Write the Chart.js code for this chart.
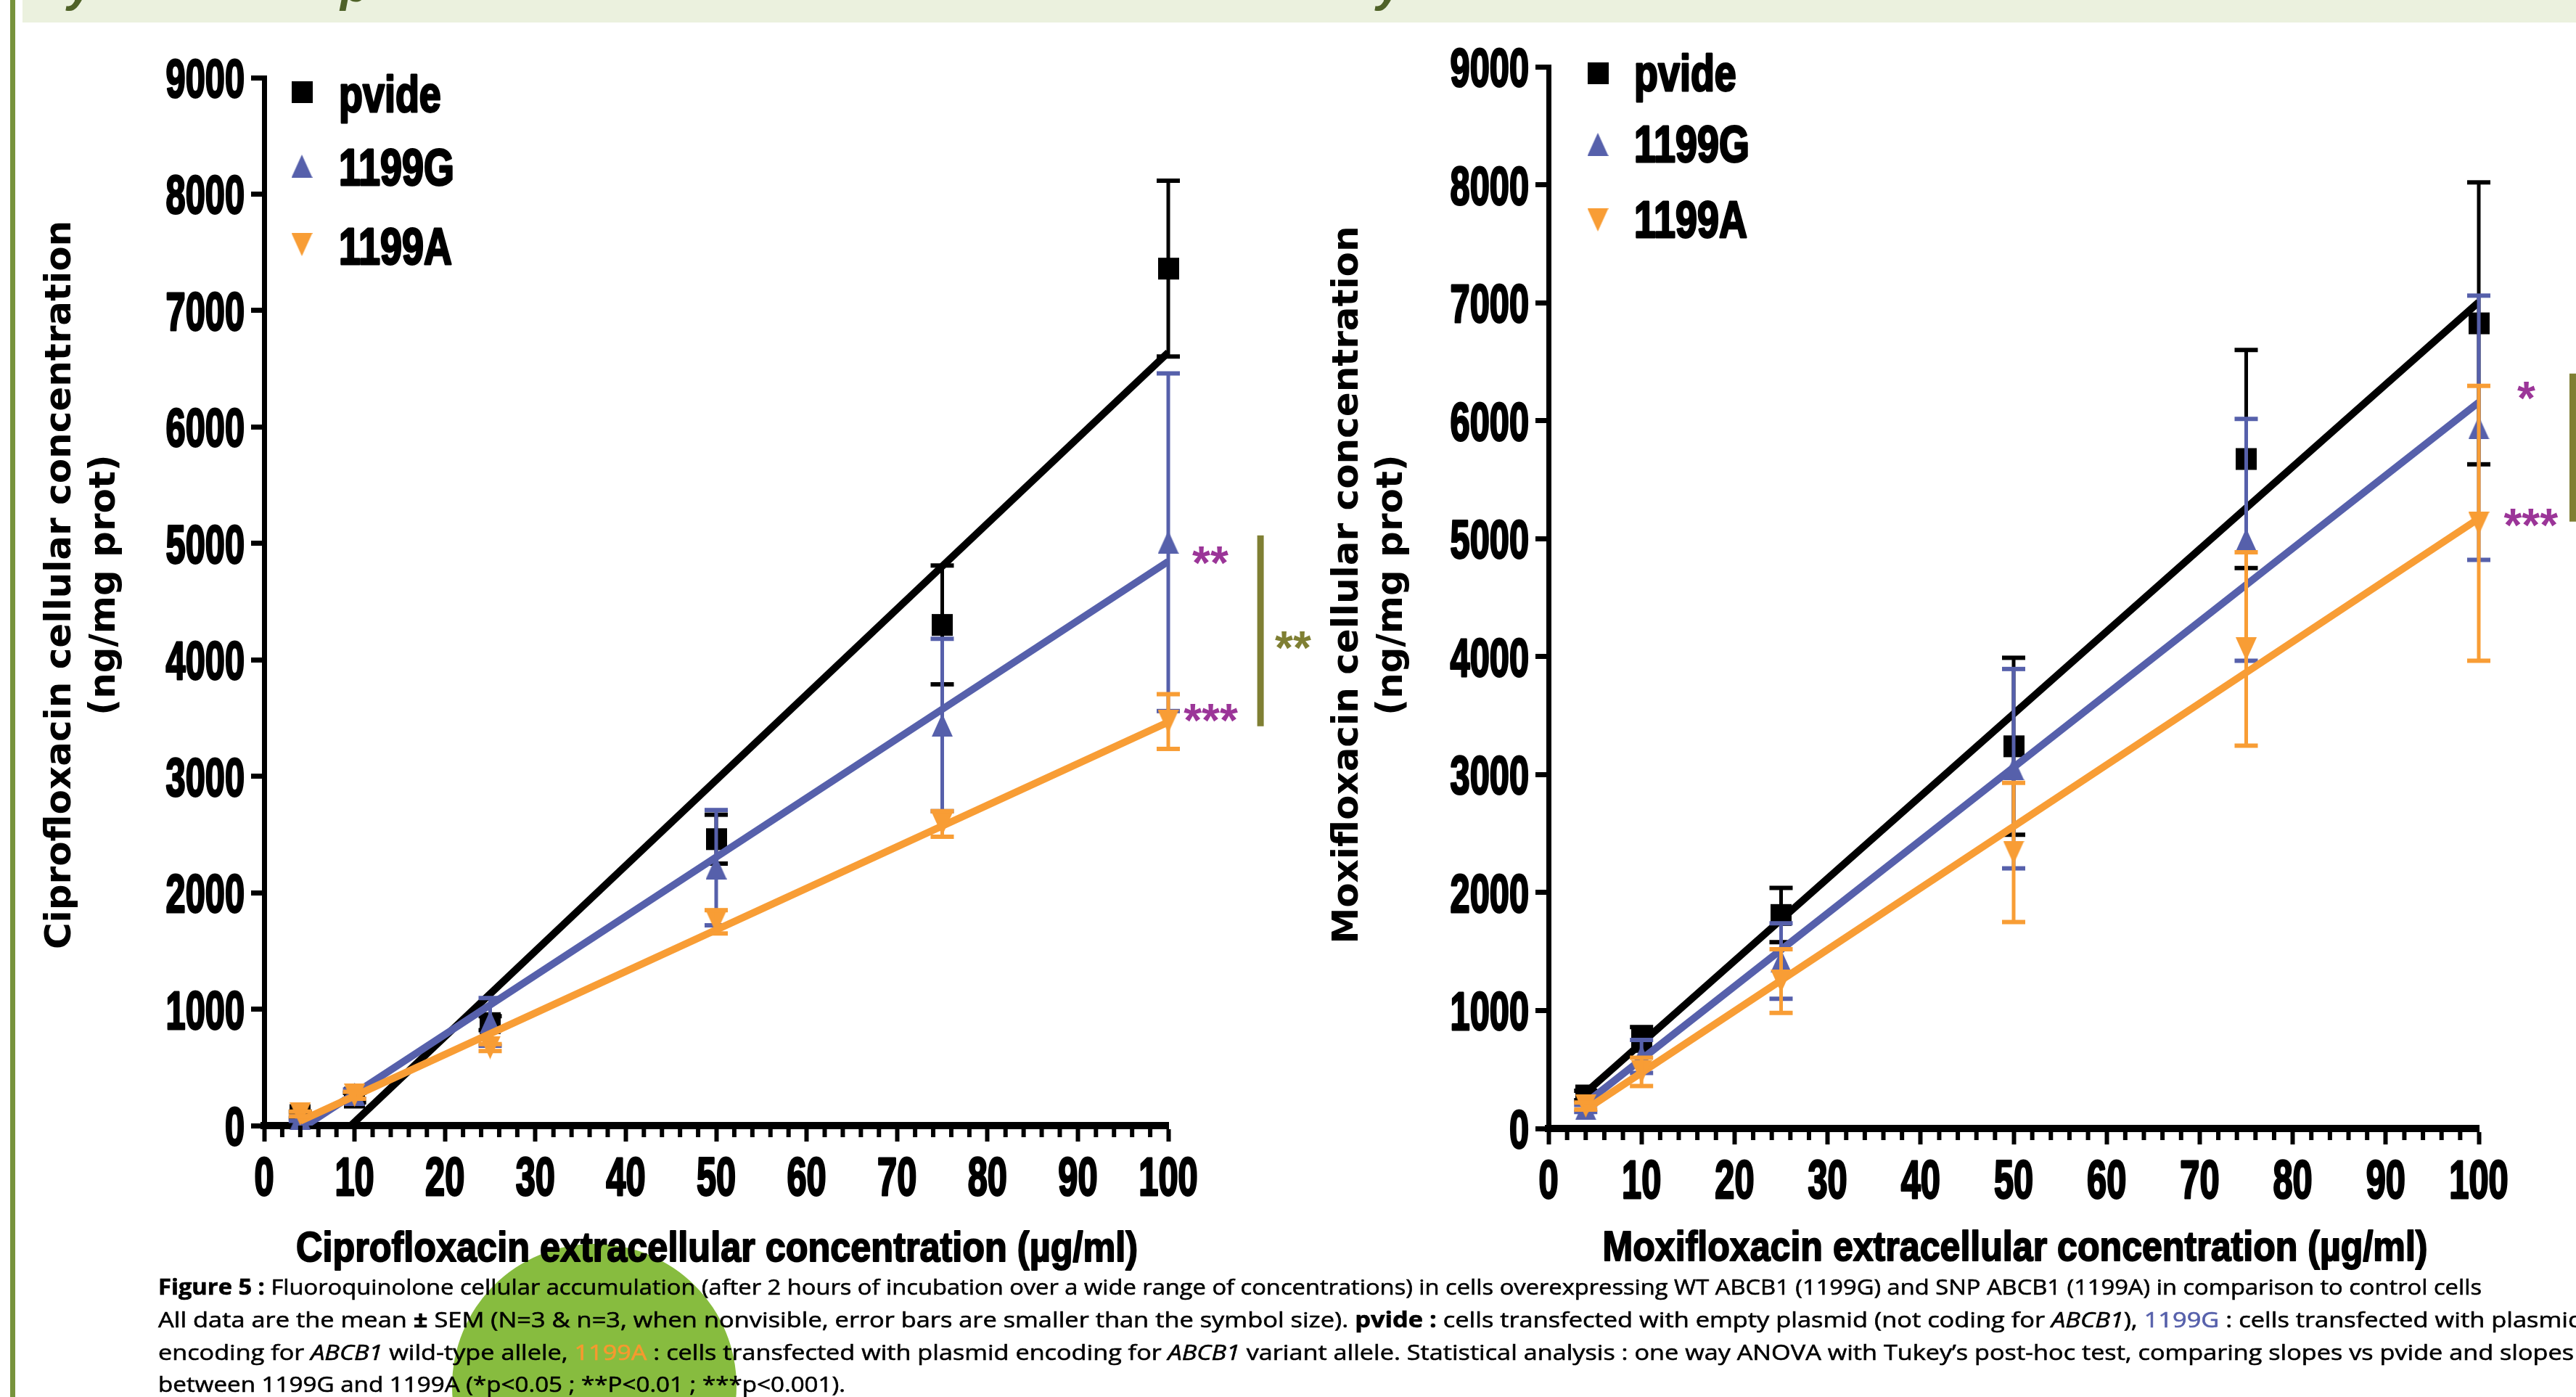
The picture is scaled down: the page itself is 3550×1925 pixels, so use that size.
<!DOCTYPE html>
<html>
<head>
<meta charset="utf-8">
<script src="https://cdn.jsdelivr.net/npm/chart.js@4.4.1/dist/chart.umd.min.js"></script>
<style>
  html, body { margin: 0; padding: 0; width: 3550px; height: 1925px; overflow: hidden; background: #fff; }
  #banner { position: absolute; left: 31px; top: 0; width: 3519px; height: 31px; background: #ebf1de; overflow: hidden; }
  #banner span { position: absolute; top: -57px; line-height: 64px; font: italic bold 64px 'Liberation Sans', sans-serif; color: #4f6228; }
  #edge { position: absolute; left: 14px; top: 0; width: 7px; height: 1925px; background: #77933c; }
  #dot { position: absolute; left: 623px; top: 1714px; width: 392px; height: 392px; border-radius: 50%; background: #87bc3f; }
  canvas { position: absolute; top: 0; }
  #caption { position: absolute; left: 218px; top: 0; font-family: 'Open Sans', sans-serif; font-size: 30px; line-height: 30px; color: #000; -webkit-text-stroke: 0.6px currentColor; }
  #caption div { position: absolute; left: 0; white-space: nowrap; transform-origin: 0 0; }
  #caption .g { color: #5660ab; }
  #caption .a { color: #f7992f; }
</style>
</head>
<body>
<div id="banner"><span style="left:62px">y</span><span style="left:438px">p</span><span style="left:1866px">y</span></div>
<div id="edge"></div>
<div id="dot"></div>
<canvas id="cipro" width="1840" height="1925" style="left:0"></canvas>
<canvas id="moxi" width="1760" height="1925" style="left:1790px"></canvas>
<div id="caption"></div>
<script>
// ---- data ----
const concentrations = [4, 10, 25, 50, 75, 100];
const seriesNames = ['pvide', '1199G', '1199A'];
const seriesColors = ['#000000', '#5660ab', '#f89d35'];
const xTicks = [0, 10, 20, 30, 40, 50, 60, 70, 80, 90, 100];
const yTicks = [0, 1000, 2000, 3000, 4000, 5000, 6000, 7000, 8000, 9000];

// Ciprofloxacin: mean and SEM
const cipPvide = [90, 240, 880, 2460, 4300, 7360];
const cipPvideSem = [30, 40, 60, 210, 510, 755];
const cipG = [60, 270, 890, 2215, 3440, 5010];
const cipGSem = [20, 40, 205, 495, 740, 1450];
const cipA = [100, 260, 670, 1750, 2590, 3470];
const cipASem = [20, 30, 30, 100, 110, 235];
// Ciprofloxacin regression lines (visible ends)
const cipPvideFitX = [9.6, 100], cipPvideFitY = [0, 6640];
const cipGFitX = [4.6, 100], cipGFitY = [0, 4845];
const cipAFitX = [4, 100], cipAFitY = [40, 3465];

// Moxifloxacin: mean and SEM
const moxPvide = [280, 760, 1810, 3240, 5675, 6825];
const moxPvideSem = [40, 100, 230, 750, 925, 1195];
const moxG = [170, 610, 1420, 3050, 4990, 5940];
const moxGSem = [30, 140, 320, 845, 1025, 1120];
const moxA = [190, 480, 1250, 2340, 4065, 5130];
const moxASem = [30, 120, 270, 590, 820, 1165];
// Moxifloxacin regression lines
const moxPvideFitX = [4, 100], moxPvideFitY = [305, 7005];
const moxGFitX = [4, 100], moxGFitY = [215, 6155];
const moxAFitX = [4, 100], moxAFitY = [160, 5170];

const PURPLE = '#9b3598';
const OLIVE = '#7f7f33';
const LABEL_FONT = "'Liberation Sans', Arial, sans-serif";

// GraphPad-like marker shapes
function markerCanvas(shape, color) {
    const c = document.createElement('canvas');
    c.width = 29; c.height = 32;
    const g = c.getContext('2d');
    g.fillStyle = color;
    g.beginPath();
    if (shape === 'square') {
        g.rect(0, 1, 29, 30);
    } else if (shape === 'up') {
        g.moveTo(14.5, 0); g.lineTo(29, 32); g.lineTo(0, 32);
    } else {
        g.moveTo(0, 0); g.lineTo(29, 0); g.lineTo(14.5, 32);
    }
    g.fill();
    return c;
}
const markers = [
    markerCanvas('square', seriesColors[0]),
    markerCanvas('up', seriesColors[1]),
    markerCanvas('down', seriesColors[2]),
];

// condensed heavy text: fill plus a thin stroke to thicken the squeezed glyphs
function squeezeText(ctx, text, x, y, sx, align, heavy) {
    ctx.save();
    ctx.translate(x, y);
    ctx.scale(sx, 1);
    ctx.textAlign = align;
    ctx.fillText(text, 0, 0);
    if (heavy) {
        ctx.lineWidth = heavy;
        ctx.lineJoin = 'round';
        ctx.strokeStyle = ctx.fillStyle;
        ctx.strokeText(text, 0, 0);
    }
    ctx.restore();
}

function line(ctx, x1, y1, x2, y2) {
    ctx.beginPath();
    ctx.moveTo(x1, y1);
    ctx.lineTo(x2, y2);
    ctx.stroke();
}

const posterStyle = {
    id: 'posterStyle',
    afterDatasetDraw(chart, args) {
        const ds = chart.data.datasets[args.index];
        if (!ds.sem) return;
        const ctx = chart.ctx, xs = chart.scales.x, ys = chart.scales.y;
        ctx.save();
        ctx.strokeStyle = ds.barColor;
        ds.data.forEach((p, i) => {
            const x = xs.getPixelForValue(p.x);
            const top = ys.getPixelForValue(p.y + ds.sem[i]);
            const bot = ys.getPixelForValue(p.y - ds.sem[i]);
            ctx.lineWidth = 5;
            line(ctx, x, top, x, bot);
            ctx.lineWidth = 6;
            line(ctx, x - 16, top, x + 16, top);
            line(ctx, x - 16, bot, x + 16, bot);
        });
        ctx.restore();
    },
    afterDraw(chart, args, o) {
        const ctx = chart.ctx, xs = chart.scales.x, ys = chart.scales.y;
        const area = chart.chartArea;
        ctx.save();
        ctx.fillStyle = '#000';
        ctx.strokeStyle = '#000';

        // minor ticks every 2 units
        ctx.lineWidth = 6;
        for (let v = 2; v < 100; v += 2) {
            if (v % 10 === 0) continue;
            const x = xs.getPixelForValue(v);
            line(ctx, x, area.bottom, x, area.bottom + 16);
        }

        // tick labels, condensed bold
        ctx.font = 'bold 75px ' + LABEL_FONT;
        ctx.textBaseline = 'alphabetic';
        ys.ticks.forEach(t => {
            squeezeText(ctx, String(t.value), area.left - 27, ys.getPixelForValue(t.value) + 27, 0.65, 'right', 3);
        });
        xs.ticks.forEach(t => {
            squeezeText(ctx, String(t.value), xs.getPixelForValue(t.value), area.bottom + 96, 0.65, 'center', 3);
        });

        // legend
        ctx.font = 'bold 70px ' + LABEL_FONT;
        seriesNames.forEach((name, i) => {
            const m = markers[i];
            ctx.drawImage(m, o.legend.symX - m.width / 2, o.legend.rows[i] - m.height / 2);
            squeezeText(ctx, name, o.legend.textX, o.legend.baselines[i], 0.77, 'left', 3);
        });

        // x title, fitted to its width
        ctx.font = 'bold 57px ' + LABEL_FONT;
        const xw = ctx.measureText(o.xTitle.text).width;
        squeezeText(ctx, o.xTitle.text, o.xTitle.cx, o.xTitle.baseline, o.xTitle.width / xw, 'center', 2);

        // y title, two rotated lines
        ctx.font = "bold 50px 'DejaVu Sans', Verdana, sans-serif";
        ctx.textAlign = 'center';
        o.yTitle.lines.forEach((txt, i) => {
            ctx.save();
            ctx.translate(o.yTitle.baselines[i], o.yTitle.cy);
            ctx.rotate(-Math.PI / 2);
            ctx.fillText(txt, 0, 0);
            ctx.restore();
        });

        // significance marks
        ctx.font = 'bold 64px ' + LABEL_FONT;
        o.stars.forEach(s => {
            const m = ctx.measureText(s.text);
            const cy = ys.getPixelForValue(s.y);
            ctx.fillStyle = s.color;
            ctx.textAlign = 'center';
            ctx.fillText(s.text, xs.getPixelForValue(s.x), cy + (m.actualBoundingBoxAscent - m.actualBoundingBoxDescent) / 2);
        });
        o.bars.forEach(b => {
            ctx.strokeStyle = OLIVE;
            ctx.lineWidth = 9;
            const x = xs.getPixelForValue(b.x);
            line(ctx, x, ys.getPixelForValue(b.y1), x, ys.getPixelForValue(b.y2));
        });
        ctx.restore();
    }
};

function buildChart(canvasId, cfg) {
    const datasets = [];
    cfg.series.forEach((s, k) => {
        datasets.push({
            label: seriesNames[k] + ' fit',
            showLine: true,
            data: s.fitX.map((x, i) => ({ x: x, y: s.fitY[i] })),
            borderColor: seriesColors[k],
            borderWidth: 10,
            pointRadius: 0,
            order: 6 - 2 * k,
        });
        datasets.push({
            label: seriesNames[k],
            data: concentrations.map((x, i) => ({ x: x, y: s.mean[i] })),
            sem: s.sem,
            barColor: seriesColors[k],
            pointStyle: markers[k],
            pointRadius: 16,
            clip: false,
            order: 5 - 2 * k,
        });
    });

    return new Chart(document.getElementById(canvasId), {
        type: 'scatter',
        data: { datasets: datasets },
        plugins: [posterStyle],
        options: {
            responsive: false,
            animation: false,
            events: [],
            devicePixelRatio: 1,
            layout: { padding: cfg.padding },
            plugins: {
                legend: { display: false },
                tooltip: { enabled: false },
                posterStyle: cfg.decor,
            },
            scales: {
                x: {
                    type: 'linear', min: 0, max: 100,
                    afterBuildTicks: s => { s.ticks = xTicks.map(v => ({ value: v })); },
                    afterFit: s => { s.height = 100; },
                    ticks: { display: false },
                    grid: { drawOnChartArea: false, drawTicks: true, tickLength: 22, tickWidth: 6, tickColor: '#000' },
                    border: { display: true, width: 10, color: '#000' },
                },
                y: {
                    type: 'linear', min: 0, max: 9000,
                    afterBuildTicks: s => { s.ticks = yTicks.map(v => ({ value: v })); },
                    afterFit: s => { s.width = 100; },
                    ticks: { display: false },
                    grid: { drawOnChartArea: false, drawTicks: true, tickLength: 18, tickWidth: 7, tickColor: '#000' },
                    border: { display: true, width: 7, color: '#000' },
                },
            },
        },
    });
}

buildChart('cipro', {
    padding: { left: 264, right: 230, top: 107, bottom: 274 },
    series: [
        { mean: cipPvide, sem: cipPvideSem, fitX: cipPvideFitX, fitY: cipPvideFitY },
        { mean: cipG, sem: cipGSem, fitX: cipGFitX, fitY: cipGFitY },
        { mean: cipA, sem: cipASem, fitX: cipAFitX, fitY: cipAFitY },
    ],
    decor: {
        legend: { symX: 416, rows: [127, 229, 337], textX: 467, baselines: [154, 255, 364] },
        xTitle: { text: 'Ciprofloxacin extracellular concentration (\u00b5g/ml)', cx: 988, baseline: 1738, width: 1160 },
        yTitle: { lines: ['Ciprofloxacin cellular concentration', '(ng/mg prot)'], baselines: [97, 158], cy: 806 },
        stars: [
            { text: '**', x: 104.65, y: 4894, color: PURPLE },
            { text: '***', x: 104.7, y: 3541, color: PURPLE },
            { text: '**', x: 113.8, y: 4165, color: OLIVE },
        ],
        bars: [{ x: 110.2, y1: 5069, y2: 3429 }],
    },
});

buildChart('moxi', {
    padding: { left: 244, right: 134, top: 92, bottom: 270 },
    series: [
        { mean: moxPvide, sem: moxPvideSem, fitX: moxPvideFitX, fitY: moxPvideFitY },
        { mean: moxG, sem: moxGSem, fitX: moxGFitX, fitY: moxGFitY },
        { mean: moxA, sem: moxASem, fitX: moxAFitX, fitY: moxAFitY },
    ],
    decor: {
        legend: { symX: 412, rows: [101, 199, 303], textX: 462, baselines: [125, 223, 327] },
        xTitle: { text: 'Moxifloxacin extracellular concentration (\u00b5g/ml)', cx: 987, baseline: 1737, width: 1137 },
        yTitle: { lines: ['Moxifloxacin cellular concentration', '(ng/mg prot)'], baselines: [81, 142], cy: 806 },
        stars: [
            { text: '*', x: 105.1, y: 6252, color: PURPLE },
            { text: '***', x: 105.6, y: 5175, color: PURPLE },
        ],
        bars: [{ x: 110.1, y1: 6400, y2: 5145 }],
    },
});

// ---- figure caption ----
const captionLines = [
    { html: '<b>Figure 5 :</b> Fluoroquinolone cellular accumulation (after 2 hours of incubation over a wide range of concentrations) in cells overexpressing WT ABCB1 (1199G) and SNP ABCB1 (1199A) in comparison to control cells', width: 3202, baseline: 1785 },
    { html: 'All data are the mean <b>\u00b1</b> SEM (N=3 &amp; n=3, when nonvisible, error bars are smaller than the symbol size). <b>pvide :</b> cells transfected with empty plasmid (not coding for <i>ABCB1</i>), <span class="g">1199G</span> : cells transfected with plasmid', width: 3342, baseline: 1830 },
    { html: 'encoding for <i>ABCB1</i> wild-type allele, <span class="a">1199A</span> : cells transfected with plasmid encoding for <i>ABCB1</i> variant allele. Statistical analysis : one way ANOVA with Tukey\u2019s post-hoc test, comparing slopes vs pvide and slopes', width: 3329, baseline: 1875 },
    { html: 'between 1199G and 1199A (*p&lt;0.05 ; **P&lt;0.01 ; ***p&lt;0.001).', width: 947, baseline: 1919 },
];
const cap = document.getElementById('caption');
captionLines.forEach(l => {
    const d = document.createElement('div');
    d.innerHTML = l.html;
    d.style.top = (l.baseline - 27) + 'px';
    cap.appendChild(d);
    const w = d.getBoundingClientRect().width;
    d.style.transform = 'scaleX(' + (l.width / w) + ')';
});
</script>
</body>
</html>
